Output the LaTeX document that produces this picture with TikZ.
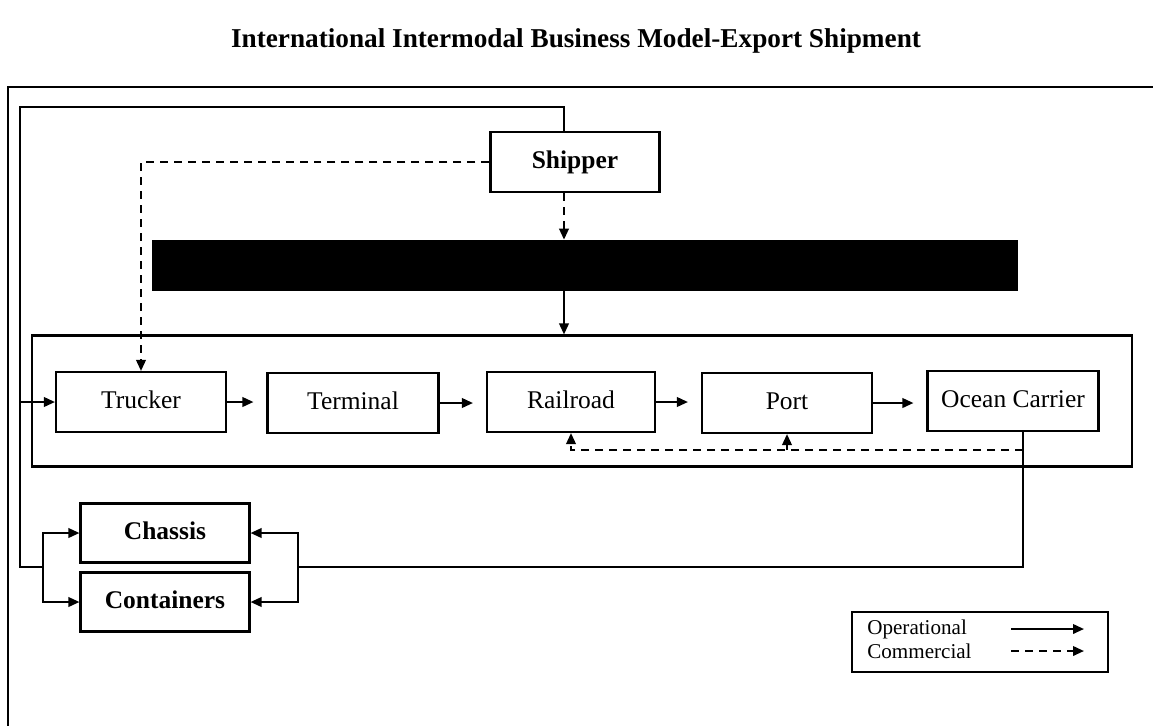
\documentclass[tikz,border=0pt]{standalone}
\usepackage{fontspec}
\setmainfont{Liberation Serif}
\usetikzlibrary{positioning, arrows.meta}

\begin{document}
\begin{tikzpicture}[x=0.02cm, y=-0.02cm,
        box/.style={rectangle, draw, line width=1.2pt, minimum width=3.4cm, minimum height=1.2cm, inner sep=0pt, text height=1.5ex, text depth=0pt, font=\fontsize{14.5}{16}\selectfont},
        boldbox/.style={box, font=\fontsize{14.5}{16}\selectfont\bfseries},
        op/.style={line width=1.2pt, -{Triangle[length=2.2mm, width=1.9mm]}},
        com/.style={op, dash pattern=on 1.6mm off 1.2mm},
        wire/.style={line width=0.9pt},
        legtext/.style={anchor=west, inner sep=0pt, font=\fontsize{12}{13}\selectfont}]
        \useasboundingbox (0,0) rectangle (1153,725);

        % Frame and title
        \draw[wire] (8,740) -- (8,87) -- (1170,87);
        \node[font=\fontsize{15.5}{18}\selectfont\bfseries] (title) at (576,41) {International Intermodal Business Model-Export Shipment};

        \node[boldbox, minimum width=3.38cm] (shipper) at (575,162) {Shipper};
        \node[rectangle, draw, fill=black, minimum width=17.3cm, minimum height=1cm] (bar) at (585,265) {};
        \node[rectangle, draw, line width=1.2pt, minimum width=22cm, minimum height=2.62cm] (chain) at (582,401) {};

        \node[box] (trucker) at (141,402) {Trucker};
        \node[box, minimum width=3.42cm] (terminal) at (353,403) {Terminal};
        \node[box, minimum width=3.36cm] (railroad) at (571,402) {Railroad};
        \node[box] (port) at (787,403) {Port};
        \node[box, minimum width=3.42cm] (ocean) at (1013,401) {Ocean Carrier};

        \node[boldbox, minimum width=3.38cm, minimum height=1.18cm] (chassis) at (165,533) {Chassis};
        \node[boldbox, minimum width=3.38cm, minimum height=1.18cm] (containers) at (165,602) {Containers};

        % Legend
        \node[rectangle, draw, line width=1pt, minimum width=5.12cm, minimum height=1.2cm] (legend) at (980,642) {};
        \node[legtext] (oplabel) at (867,629) {Operational};
        \node[legtext] (comlabel) at (867,651) {Commercial};
        \coordinate (opA) at (1011,629);
        \coordinate (opB) at (1084,629);
        \coordinate (comA) at (1011,651);
        \coordinate (comB) at (1084,651);
        \draw[op] (opA) -- (opB);
        \draw[com] (comA) -- (comB);

        \coordinate (drop) at (564,107);
        \coordinate (loop) at (20,107);
        \coordinate (split) at (43,567);
        \coordinate (merge) at (298,567);
        \coordinate (back) at (1023,450);

        % Operational loop
        \draw[wire] (shipper.north -| drop) -- (drop) -- (loop) -- (loop |- split) -- (split);
        \draw[op] (loop |- trucker.west) -- (trucker.west);
        \draw[op] (split) |- (chassis.west);
        \draw[op] (split) |- (containers.west);

        % Return from ocean carrier
        \draw[wire] (ocean.south -| back) |- (merge);
        \draw[op] (merge) |- (chassis.east);
        \draw[op] (merge) |- (containers.east);

        % Commercial
        \draw[com] (shipper.west) -| (trucker.north);
        \draw[com] (shipper.south -| drop) -- (bar.north -| drop);
        \draw[op] (bar.south -| drop) -- (chain.north -| drop);
        \draw[com] (back) -| (railroad.south);
        \draw[com] (back -| port.south) -- (port.south);

        % Chain
        \foreach \a/\b in {trucker/terminal, terminal/railroad, railroad/port, port/ocean}
            \draw[op, shorten >=2.6mm] (\a.east) -- (\a.east -| \b.west);
    \end{tikzpicture}
\end{document}
